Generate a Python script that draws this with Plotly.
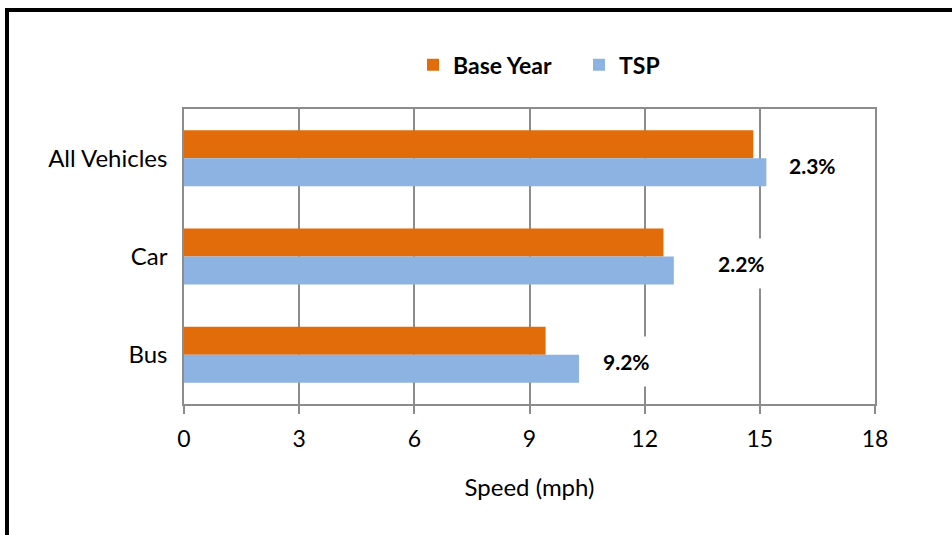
import plotly.graph_objects as go

# Average speeds by vehicle class (mph)
categories = ["All Vehicles", "Car", "Bus"]
base_year = [14.83, 12.49, 9.42]
tsp = [15.17, 12.76, 10.29]
x_ticks = [0, 3, 6, 9, 12, 15, 18]

ORANGE = "#E36C0A"
BLUE = "#8DB3E2"
GRID = "#8C8C8C"
FONT = "Lato, Carlito, Calibri, sans-serif"

fig = go.Figure()
fig.add_trace(go.Bar(name="Base Year", y=categories, x=base_year, orientation="h",
                     marker=dict(color=ORANGE, line=dict(width=0))))
fig.add_trace(go.Bar(name="TSP", y=categories, x=tsp, orientation="h",
                     marker=dict(color=BLUE, line=dict(width=0))))

# percentage change labels beside each TSP bar
label_shift = [46, 68, 47]
for cat, b, t, dx in zip(categories, base_year, tsp, label_shift):
    pct = (t - b) / b * 100
    fig.add_annotation(x=t, y=cat, xref="x", yref="y", text=f"<b>{pct:.1f}%</b>",
                       showarrow=False, xanchor="center", yanchor="middle",
                       xshift=dx, yshift=-7, bgcolor="white", borderpad=12,
                       font=dict(family=FONT, size=21, color="black"))

# outer frame around the chart
fig.add_shape(type="rect", xref="paper", yref="paper",
              x0=(7 - 184) / 691, x1=1.2, y0=-0.5, y1=(404 - 10) / 295,
              line=dict(color="black", width=4), fillcolor="rgba(0,0,0,0)", layer="above")

fig.update_layout(
    width=952, height=535,
    margin=dict(l=184, r=77, t=109, b=131),
    paper_bgcolor="white", plot_bgcolor="white",
    barmode="group", bargap=0.43, bargroupgap=0,
    font=dict(family=FONT, size=23, color="black"),
    legend=dict(orientation="h", x=(413 - 184) / 691, xanchor="left", y=1.15, yanchor="middle",
                font=dict(family=FONT, size=23, color="black", weight="bold"),
                entrywidth=121, entrywidthmode="pixels", itemwidth=30,
                traceorder="normal", bgcolor="rgba(0,0,0,0)"),
    xaxis=dict(range=[0, 18], tickvals=x_ticks, showgrid=True, gridcolor=GRID, gridwidth=1.5,
               showline=True, linecolor=GRID, linewidth=1.5, mirror=True,
               ticks="outside", ticklen=8, tickwidth=1.5, tickcolor=GRID,
               zeroline=False, tickfont=dict(size=23), ticklabelstandoff=6,
               title=dict(text="Speed (mph)", font=dict(size=24), standoff=28)),
    yaxis=dict(autorange="reversed", showgrid=False, showline=True, linecolor=GRID,
               linewidth=1.5, mirror=True, ticks="", tickfont=dict(size=24),
               ticklabelstandoff=10),
)

fig.write_html("out.html")
